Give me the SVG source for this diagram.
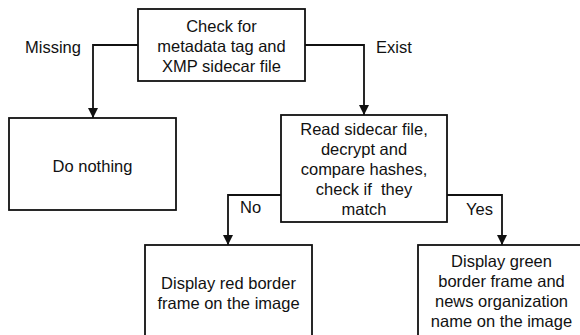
<svg xmlns="http://www.w3.org/2000/svg" width="580" height="335" viewBox="0 0 580 335">
  <style>
    .box { fill: #ffffff; stroke: #111111; stroke-width: 1.8; }
    .lbl { font-family: "Liberation Sans", Arial, sans-serif; font-size: 16.5px; fill: #111111; }
    .mid { text-anchor: middle; }
    .wire { fill: none; stroke: #111111; stroke-width: 1.8; }
  </style>
  <defs>
    <marker id="arrow" markerWidth="10" markerHeight="12" refX="10" refY="6" orient="auto" markerUnits="userSpaceOnUse">
      <path d="M0,1 L10,6 L0,11 Z" fill="#111111"/>
    </marker>
  </defs>
  <rect width="580" height="335" fill="#ffffff"/>

  <!-- connectors -->
  <g id="connectors">
    <path class="wire" d="M138,45 H93 V118" marker-end="url(#arrow)"/>
    <path class="wire" d="M305,45 H364 V115" marker-end="url(#arrow)"/>
    <path class="wire" d="M281,195 H228 V245" marker-end="url(#arrow)"/>
    <path class="wire" d="M447,195 H502 V245" marker-end="url(#arrow)"/>
    <text class="lbl" x="25" y="53">Missing</text>
    <text class="lbl" x="376" y="53">Exist</text>
    <text class="lbl" x="240" y="213">No</text>
    <text class="lbl" x="466" y="215">Yes</text>
  </g>

  <g id="check">
    <rect class="box" x="138" y="9" width="167" height="72"/>
    <text class="lbl mid" x="221.5" y="32">Check for</text>
    <text class="lbl mid" x="221.5" y="52">metadata tag and</text>
    <text class="lbl mid" x="221.5" y="72">XMP sidecar file</text>
  </g>

  <g id="do-nothing">
    <rect class="box" x="9" y="118" width="167" height="92"/>
    <text class="lbl mid" x="92.5" y="172">Do nothing</text>
  </g>

  <g id="verify">
    <rect class="box" x="281" y="115" width="166" height="107"/>
    <text class="lbl mid" x="364" y="135">Read sidecar file,</text>
    <text class="lbl mid" x="364" y="155">decrypt and</text>
    <text class="lbl mid" x="364" y="175">compare hashes,</text>
    <text class="lbl mid" x="364" y="195">check if&#160; they</text>
    <text class="lbl mid" x="364" y="215">match</text>
  </g>

  <g id="red-frame">
    <rect class="box" x="145" y="245" width="167" height="100"/>
    <text class="lbl mid" x="228.5" y="289">Display red border</text>
    <text class="lbl mid" x="228.5" y="309">frame on the image</text>
  </g>

  <g id="green-frame">
    <rect class="box" x="418" y="245" width="167" height="100"/>
    <text class="lbl mid" x="501.5" y="267">Display green</text>
    <text class="lbl mid" x="501.5" y="287">border frame and</text>
    <text class="lbl mid" x="501.5" y="307">news organization</text>
    <text class="lbl mid" x="501.5" y="327">name on the image</text>
  </g>
</svg>
